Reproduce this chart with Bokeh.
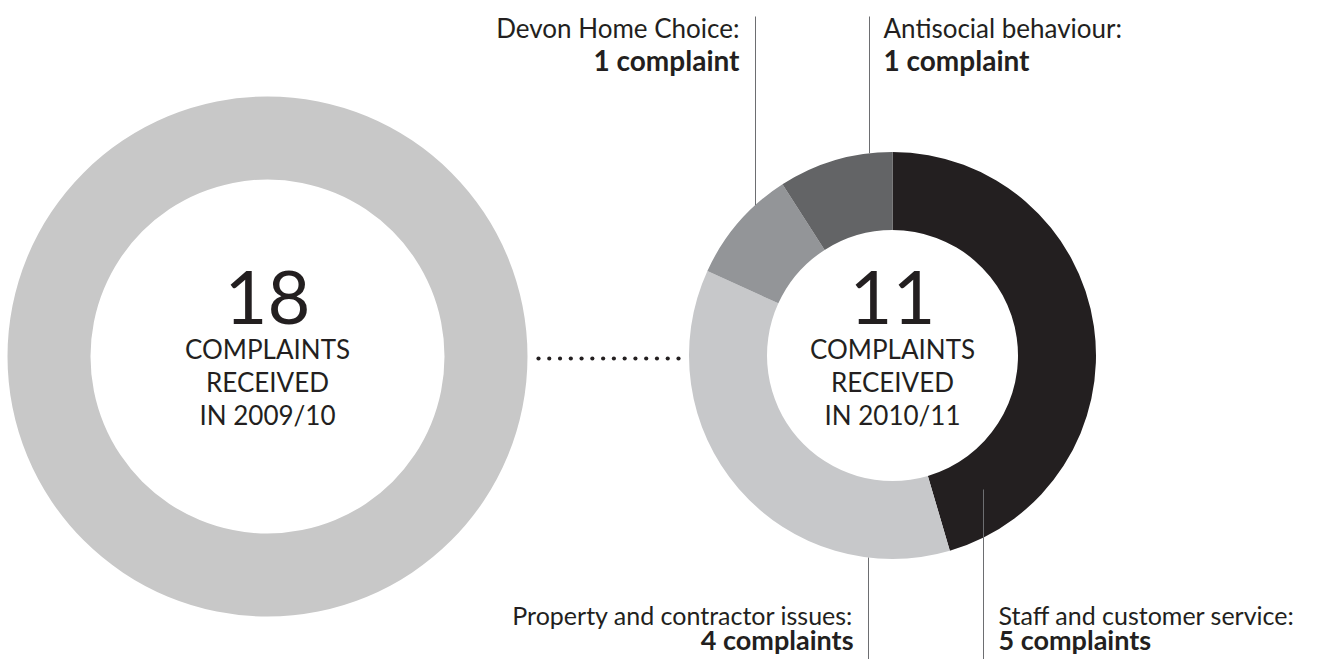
import numpy as np
from bokeh.plotting import figure
from bokeh.models import Range1d, ColumnDataSource
from bokeh.core.properties import value
from bokeh.embed import file_html
from bokeh.resources import INLINE

# ---- data ----
prev_year = "2009/10"
prev_total = 18
curr_year = "2010/11"
categories = ["Staff and customer service", "Property and contractor issues",
              "Devon Home Choice", "Antisocial behaviour"]
counts = [5, 4, 1, 1]
colors = ["#231f20", "#c7c8ca", "#939598", "#636466"]

TXT = "#231f20"
FONT = value("Lato")

W, H = 1321, 659
p = figure(width=W, height=H, output_backend="svg", toolbar_location=None,
           x_range=Range1d(0, W), y_range=Range1d(-H, 0),
           min_border=0, outline_line_color=None)
p.axis.visible = False
p.grid.visible = False
p.background_fill_color = "white"

# ---- left donut (previous year) ----
lcx, lcy = 267, -356
p.annular_wedge(x=lcx, y=lcy, inner_radius=177, outer_radius=260,
                start_angle=0, end_angle=2 * np.pi, color="#c8c8c8",
                line_color=None)

# ---- right donut (current year) ----
rcx, rcy = 892, -355
R_OUT, R_IN = 203.5, 125.5
total = sum(counts)
cum = np.concatenate([[0], np.cumsum(counts)])
starts = np.pi / 2 - cum[:-1] / total * 2 * np.pi
ends = np.pi / 2 - cum[1:] / total * 2 * np.pi
src = ColumnDataSource(dict(start=starts, end=ends, color=colors))
p.annular_wedge(x=rcx, y=rcy, inner_radius=R_IN, outer_radius=R_OUT,
                start_angle="start", end_angle="end", direction="clock",
                fill_color="color", line_color=None, source=src)

# ---- dotted connector ----
dx = np.linspace(538, 678, 14)
p.scatter(x=dx, y=np.full_like(dx, -358), size=4.2, color=TXT, line_color=None)

# ---- centre texts ----
for cx, num, yr in [(lcx, prev_total, prev_year), (rcx, total, curr_year)]:
    p.text(x=[cx], y=[-296.5], text=[str(num)], text_font=FONT, text_font_size="74px",
           text_align="center", text_baseline="middle", text_color=TXT)
    p.text(x=[cx] * 3, y=[-348, -381, -414],
           text=["COMPLAINTS", "RECEIVED", "IN " + yr], text_font=FONT,
           text_font_size="26px", text_align="center", text_baseline="middle",
           text_color=TXT)

# ---- callout lines ----
LINE = "#6d6e71"
def ring_top(x):
    return rcy + np.sqrt(R_OUT ** 2 - (x - rcx) ** 2)

def ring_bottom(x):
    return rcy - np.sqrt(R_OUT ** 2 - (x - rcx) ** 2)

p.segment(x0=[755, 869], y0=[-16, -16], x1=[755, 869],
          y1=[ring_top(755), ring_top(869)], line_color=LINE, line_width=1)
p.segment(x0=[868, 983], y0=[ring_bottom(868), -489], x1=[868, 983],
          y1=[-662, -662], line_color=LINE, line_width=1)

def plural(n):
    return f"{n} complaint" + ("s" if n != 1 else "")

# label: (category index, x, align, line centres, font size)
labels = [
    (2, 739, "right", (-27, -59), 26),
    (3, 883, "left", (-27, -59), 26),
    (1, 853, "right", (-614.5, -638.5), 25),
    (0, 998, "left", (-614.5, -638.5), 25),
]
for idx, x, align, (c1, c2), fs in labels:
    p.text(x=[x], y=[c1], text=[categories[idx] + ":"], text_font=FONT,
           text_font_size=f"{fs}px", text_align=align, text_baseline="middle",
           text_color=TXT)
    p.text(x=[x], y=[c2], text=[plural(counts[idx])], text_font=FONT,
           text_font_size=f"{fs + 2}px", text_font_style="bold", text_align=align,
           text_baseline="middle", text_color=TXT)

open("out.html", "w").write(file_html(p, INLINE))
